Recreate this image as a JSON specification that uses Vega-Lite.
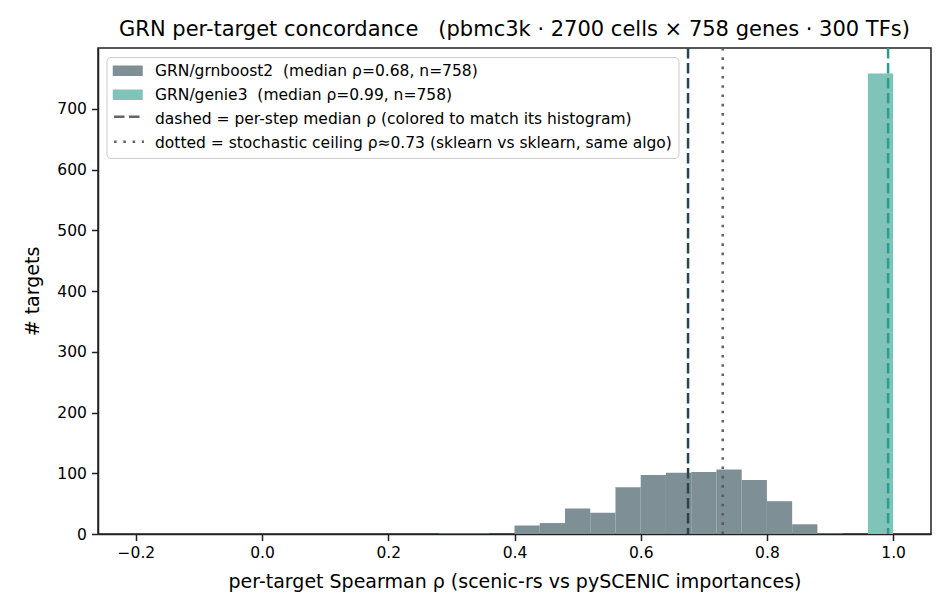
{
  "$schema": "https://vega.github.io/schema/vega-lite/v6.json",
  "width": 833,
  "height": 486,
  "autosize": {"type": "none"},
  "padding": {"left": 98, "top": 48, "right": 21, "bottom": 82},
  "background": "white",
  "config": {
    "font": "DejaVu Sans",
    "view": {"stroke": "#222", "strokeWidth": 1.5},
    "axis": {"grid": false, "labelFont": "DejaVu Sans", "titleFont": "DejaVu Sans", "labelFontSize": 15.5, "titleFontSize": 19, "titleFontWeight": "normal", "labelColor": "#000", "titleColor": "#000", "tickColor": "#222", "domainColor": "#222", "tickSize": 6.6, "tickWidth": 1.5, "domainWidth": 1.5}
  },
  "title": {"text": "GRN per-target concordance\u00a0\u00a0\u00a0(pbmc3k · 2700 cells × 758 genes · 300 TFs)", "fontSize": 21, "fontWeight": "normal", "font": "DejaVu Sans", "color": "#000", "anchor": "middle", "offset": 7},
  "datasets": {
    "hist": [
      {"series": "GRN/grnboost2\u00a0\u00a0(median ρ=0.68, n=758)", "bin_start": 0.28, "bin_end": 0.32, "count": 1},
      {"series": "GRN/grnboost2\u00a0\u00a0(median ρ=0.68, n=758)", "bin_start": 0.32, "bin_end": 0.36, "count": 1},
      {"series": "GRN/grnboost2\u00a0\u00a0(median ρ=0.68, n=758)", "bin_start": 0.40, "bin_end": 0.44, "count": 14},
      {"series": "GRN/grnboost2\u00a0\u00a0(median ρ=0.68, n=758)", "bin_start": 0.44, "bin_end": 0.48, "count": 18},
      {"series": "GRN/grnboost2\u00a0\u00a0(median ρ=0.68, n=758)", "bin_start": 0.48, "bin_end": 0.52, "count": 42},
      {"series": "GRN/grnboost2\u00a0\u00a0(median ρ=0.68, n=758)", "bin_start": 0.52, "bin_end": 0.56, "count": 35},
      {"series": "GRN/grnboost2\u00a0\u00a0(median ρ=0.68, n=758)", "bin_start": 0.56, "bin_end": 0.60, "count": 77},
      {"series": "GRN/grnboost2\u00a0\u00a0(median ρ=0.68, n=758)", "bin_start": 0.60, "bin_end": 0.64, "count": 97},
      {"series": "GRN/grnboost2\u00a0\u00a0(median ρ=0.68, n=758)", "bin_start": 0.64, "bin_end": 0.68, "count": 101},
      {"series": "GRN/grnboost2\u00a0\u00a0(median ρ=0.68, n=758)", "bin_start": 0.68, "bin_end": 0.72, "count": 102},
      {"series": "GRN/grnboost2\u00a0\u00a0(median ρ=0.68, n=758)", "bin_start": 0.72, "bin_end": 0.76, "count": 106},
      {"series": "GRN/grnboost2\u00a0\u00a0(median ρ=0.68, n=758)", "bin_start": 0.76, "bin_end": 0.80, "count": 89},
      {"series": "GRN/grnboost2\u00a0\u00a0(median ρ=0.68, n=758)", "bin_start": 0.80, "bin_end": 0.84, "count": 54},
      {"series": "GRN/grnboost2\u00a0\u00a0(median ρ=0.68, n=758)", "bin_start": 0.84, "bin_end": 0.88, "count": 16},
      {"series": "GRN/grnboost2\u00a0\u00a0(median ρ=0.68, n=758)", "bin_start": 0.88, "bin_end": 0.92, "count": 1},
      {"series": "GRN/genie3\u00a0\u00a0(median ρ=0.99, n=758)", "bin_start": 0.96, "bin_end": 1.0, "count": 758}
    ],
    "medians": [
      {"series": "grnboost2", "rho": 0.675, "color": "#264653", "kind": "dashed = per-step median ρ (colored to match its histogram)"},
      {"series": "genie3", "rho": 0.992, "color": "#2a9d8f", "kind": "dashed = per-step median ρ (colored to match its histogram)"}
    ],
    "ceiling": [{"rho": 0.73, "kind": "dotted = stochastic ceiling ρ≈0.73 (sklearn vs sklearn, same algo)"}]
  },
  "layer": [
    {
      "data": {"name": "hist"},
      "mark": {"type": "bar", "opacity": 1},
      "encoding": {
        "x": {"field": "bin_start", "type": "quantitative", "scale": {"domain": [-0.26, 1.06], "nice": false, "zero": false}, "axis": {"values": [-0.2, 0, 0.2, 0.4, 0.6, 0.8, 1.0], "format": ".1f", "title": "per-target Spearman ρ (scenic-rs vs pySCENIC importances)", "titlePadding": 11, "labelPadding": 5}},
        "x2": {"field": "bin_end"},
        "y": {"field": "count", "type": "quantitative", "scale": {"domain": [0, 800], "nice": false}, "axis": {"values": [0, 100, 200, 300, 400, 500, 600, 700], "title": "# targets", "titlePadding": 14, "labelPadding": 5}},
        "y2": {"datum": 0},
        "color": {
          "field": "series", "type": "nominal",
          "scale": {
            "domain": ["GRN/grnboost2\u00a0\u00a0(median ρ=0.68, n=758)", "GRN/genie3\u00a0\u00a0(median ρ=0.99, n=758)", "dashed = per-step median ρ (colored to match its histogram)", "dotted = stochastic ceiling ρ≈0.73 (sklearn vs sklearn, same algo)"],
            "range": ["#7f8f96", "#80c4b9", "transparent", "transparent"]
          },
          "legend": {
            "title": null,
            "orient": "none",
            "legendX": 8.5,
            "legendY": 9,
            "padding": 6,
            "fillColor": "white",
            "strokeColor": "#cccccc",
            "cornerRadius": 4,
            "labelFont": "DejaVu Sans",
            "labelFontSize": 15.5,
            "labelColor": "#000",
            "labelOffset": 27,
            "rowPadding": 7.0,
            "symbolSize": 225,
            "symbolType": "M-1,-0.7H3V0.7H-1Z",
            "symbolStrokeWidth": 0,
            "labelLimit": 800
          }
        }
      }
    },
    {
      "data": {"name": "medians"},
      "mark": {"type": "rule", "strokeWidth": 2.5},
      "encoding": {
        "x": {"field": "rho", "type": "quantitative"},
        "color": {"field": "color", "type": "nominal", "scale": null, "legend": null},
        "strokeDash": {
          "field": "kind", "type": "nominal",
          "scale": {
            "domain": ["dashed = per-step median ρ (colored to match its histogram)", "dotted = stochastic ceiling ρ≈0.73 (sklearn vs sklearn, same algo)"],
            "range": [[10.5, 4.5], [2.6, 6.7]]
          },
          "legend": {
            "title": null,
            "orient": "none",
            "legendX": 8.5,
            "legendY": 53.8,
            "padding": 6,
            "fillColor": "transparent",
            "strokeColor": "transparent",
            "labelFont": "DejaVu Sans",
            "labelFontSize": 15.5,
            "labelColor": "transparent",
            "labelExpr": "' '",
            "labelOffset": 27,
            "rowPadding": 7.0,
            "symbolSize": 225,
            "symbolType": "M-1,0H3",
            "symbolStrokeColor": "#4a4a4a",
            "symbolFillColor": "transparent",
            "symbolStrokeWidth": 2.6,
            "labelLimit": 800
          }
        }
      }
    },
    {
      "data": {"name": "ceiling"},
      "mark": {"type": "rule", "strokeWidth": 2.6, "color": "#555555", "opacity": 0.9},
      "encoding": {
        "x": {"field": "rho", "type": "quantitative"},
        "strokeDash": {"field": "kind", "type": "nominal"}
      }
    }
  ]
}
